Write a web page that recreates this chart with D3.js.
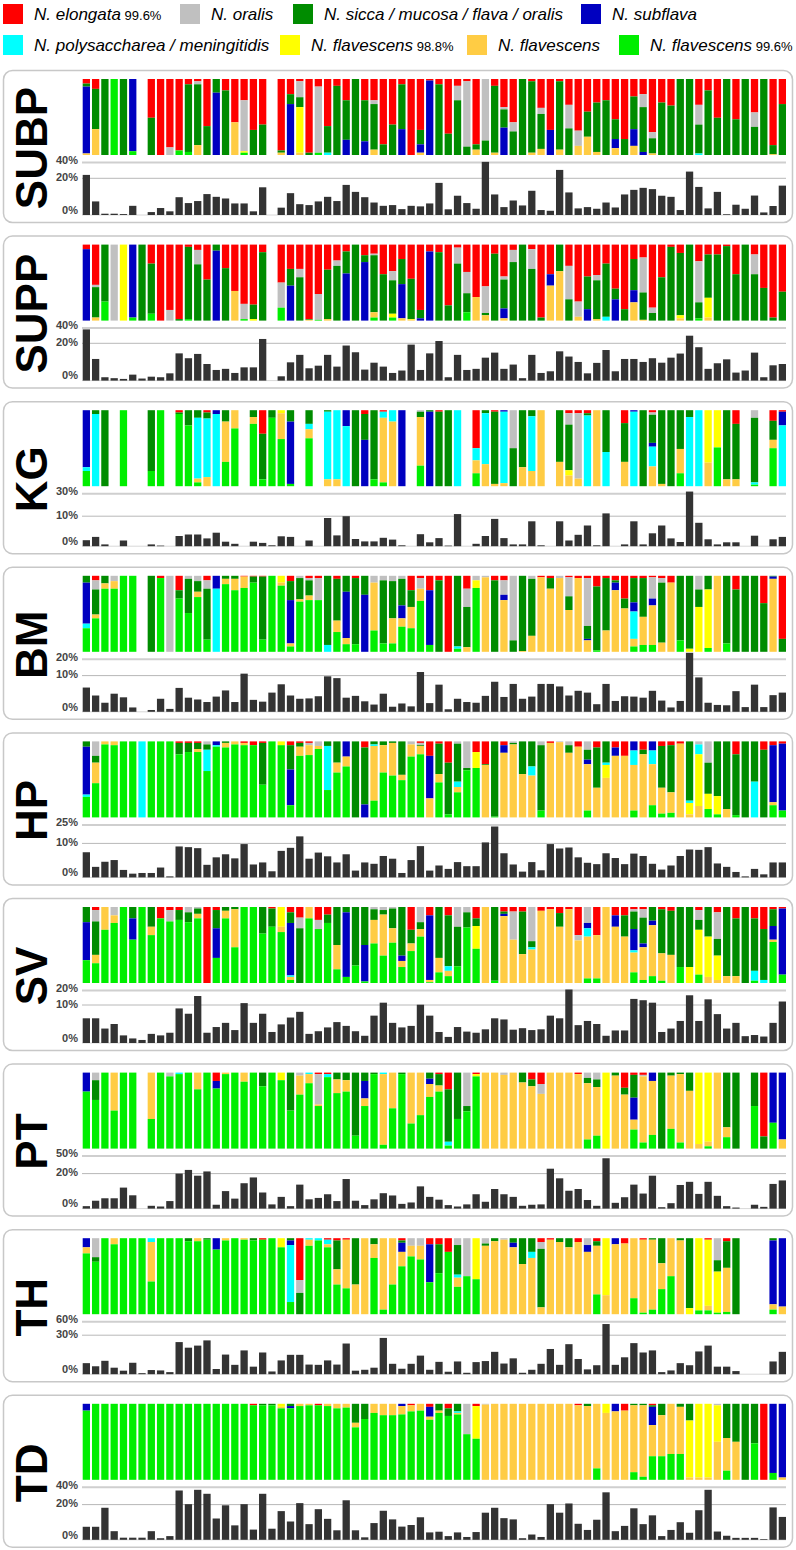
<!DOCTYPE html>
<html>
<head>
<meta charset="utf-8">
<title>Neisseria composition by site</title>
<script src="https://cdn.jsdelivr.net/npm/d3@7"></script>
<style>
  body { margin: 0; background: #fff; }
  svg text { font-family: "Liberation Sans", Arial, sans-serif; }
  .tick-label { font-size: 11px; font-weight: bold; fill: #444; }
  .site-label { font-size: 44px; font-weight: bold; fill: #000; }
  .legend-text { font-size: 17px; font-style: italic; fill: #000; }
  .legend-pct { font-size: 13px; font-style: normal; }
</style>
</head>
<body>
<script>
// species in stacking order, top to bottom
var species = ["N. elongata", "N. oralis", "N. sicca / mucosa / flava / oralis", "N. subflava",
  "N. polysaccharea / meningitidis", "N. flavescens", "N. flavescens", "N. flavescens"];
var speciesPct = ["99.6%", "", "", "", "", "98.8%", "", "99.6%"];
var speciesColors = ["#ff0000", "#c0c0c0", "#008c00", "#0000c0", "#00ffff", "#ffff00", "#ffcc44", "#00ee00"];

var sites = ["SUBP", "SUPP", "KG", "BM", "HP", "SV", "PT", "TH", "TD"];
// abundance axis ticks per site (0, break, top)
var siteTicks = [[0, 20, 40], [0, 20, 40], [0, 10, 30], [0, 10, 20], [0, 10, 25],
  [0, 10, 20], [0, 20, 50], [0, 30, 60], [0, 20, 40]];

// composition per column: [elongata, oralis, sicca, subflava, polysacch, flav98.8, flav, flav99.6]
var subpComp = [[6,0,4,88,0,0,2,0],[13,0,53,0,0,0,34,0],[0,0,100,0,0,0,0,0],[0,0,0,0,0,0,0,100],[0,0,100,0,0,0,0,0],
[0,0,0,95,0,0,0,5],[],[51,0,49,0,0,0,0,0],[100,0,0,0,0,0,0,0],[90,10,0,0,0,0,0,0],
[94,0,0,0,0,0,0,6],[7,0,89,0,0,0,0,4],[3,4,80,0,0,0,13,0],[62,0,38,0,0,0,0,0],[0,0,18,82,0,0,0,0],
[15,0,85,0,0,0,0,0],[57,0,0,0,0,0,43,0],[28,67,0,0,0,2,0,3],[67,0,33,0,0,0,0,0],[60,0,40,0,0,0,0,0],
[],[94,0,3,0,0,0,3,0],[20,0,13,67,0,0,0,0],[3,21,13,0,0,60,3,0],[97,0,3,0,0,0,0,0],
[10,87,0,0,0,0,0,3],[62,0,35,0,3,0,0,0],[9,0,91,0,0,0,0,0],[28,0,52,20,0,0,0,0],[0,0,100,0,0,0,0,0],
[28,0,54,18,0,0,0,0],[28,5,60,0,0,0,7,0],[86,0,14,0,0,0,0,0],[60,0,40,0,0,0,0,0],[7,0,59,34,0,0,0,0],
[100,0,0,0,0,0,0,0],[67,0,19,11,0,0,3,0],[2,0,0,98,0,0,0,0],[7,0,93,0,0,0,0,0],[72,0,28,0,0,0,0,0],
[9,19,72,0,0,0,0,0],[3,86,11,0,0,0,0,0],[86,0,7,0,0,0,7,0],[0,81,19,0,0,0,0,0],[9,0,88,0,0,0,3,0],
[37,3,24,36,0,0,0,0],[57,12,31,0,0,0,0,0],[0,0,100,0,0,0,0,0],[3,0,94,0,0,0,3,0],[38,8,46,0,0,0,8,0],
[67,0,0,33,0,0,0,0],[3,0,90,0,0,0,7,0],[34,31,35,0,0,0,0,0],[68,20,0,0,0,0,12,0],[43,0,33,0,0,0,24,0],
[31,0,65,0,0,0,4,0],[28,0,72,0,0,0,0,0],[53,0,26,12,0,0,9,0],[79,0,21,0,0,0,0,0],[23,0,43,22,0,0,12,0],
[20,17,59,4,0,0,0,0],[70,8,20,0,0,0,2,0],[31,0,69,0,0,0,0,0],[35,0,65,0,0,0,0,0],[0,0,100,0,0,0,0,0],
[0,0,100,0,0,0,0,0],[34,26,38,0,2,0,0,0],[15,0,85,0,0,0,0,0],[51,0,49,0,0,0,0,0],[0,0,100,0,0,0,0,0],
[53,0,47,0,0,0,0,0],[0,0,100,0,0,0,0,0],[44,19,37,0,0,0,0,0],[0,0,100,0,0,0,0,0],[87,0,12,0,0,0,1,0],
[33,0,67,0,0,0,0,0]];
var subpAbund = [24.3,7.4,0.7,0.7,0.5,5.0,null,1.6,3.8,2.0, 9.7,6.5,7.6,11.4,9.9,9.0,6.3,6.3,2.0,15.1,
null,4.0,11.9,5.9,5.4,7.4,9.9,7.6,16.4,12.6, 9.7,6.8,5.0,5.4,3.2,5.0,4.7,6.3,17.5,3.1,
10.5,6.5,3.4,40.8,11.2,4.3,7.9,5.2,13.2,2.7, 2.3,30.6,12.3,3.6,4.3,3.4,6.8,4.1,11.2,13.7,
14.8,14.1,10.5,9.9,2.7,28.5,15.3,3.6,12.6,0.4, 5.6,3.4,10.6,1.4,4.9,16.0];

var suppComp = [[6,0,0,94,0,0,0,0],[53,3,40,0,0,0,4,0],[0,0,75,0,0,0,0,25],[0,100,0,0,0,0,0,0],[0,0,0,0,0,100,0,0],
[0,0,0,96,0,0,0,4],[0,0,100,0,0,0,0,0],[25,0,66,0,0,0,0,9],[100,0,0,0,0,0,0,0],[86,14,0,0,0,0,0,0],
[98,0,2,0,0,0,0,0],[3,0,95,0,0,0,0,2],[7,19,74,0,0,0,0,0],[46,0,54,0,0,0,0,0],[0,0,8,92,0,0,0,0],
[31,0,69,0,0,0,0,0],[61,0,0,0,0,0,39,0],[78,20,0,0,0,0,0,2],[79,0,19,0,0,2,0,0],[10,0,90,0,0,0,0,0],
[],[50,33,0,0,0,0,0,17],[32,0,22,46,0,0,0,0],[32,11,57,0,0,0,0,0],[98,0,1,0,0,0,1,0],
[65,34,0,0,0,0,0,1],[33,0,65,0,0,0,2,0],[21,7,72,0,0,0,0,0],[9,0,29,62,0,0,0,0],[0,0,100,0,0,0,0,0],
[14,0,9,77,0,0,0,0],[12,2,75,0,0,0,7,4],[39,0,61,0,0,0,0,0],[35,12,44,0,0,5,0,4],[19,0,33,45,0,0,3,0],
[45,0,53,0,0,1,1,0],[86,0,11,3,0,0,0,0],[9,0,0,91,0,0,0,0],[10,0,90,0,0,0,0,0],[80,0,20,0,0,0,0,0],
[4,21,75,0,0,0,0,0],[36,28,25,0,0,0,0,11],[69,0,0,0,0,0,31,0],[55,35,3,0,0,0,7,0],[12,0,88,0,0,0,0,0],
[42,4,38,13,0,0,3,0],[7,16,77,0,0,0,0,0],[0,0,100,0,0,0,0,0],[6,26,68,0,0,0,0,0],[96,0,4,0,0,0,0,0],
[39,0,0,15,0,0,46,0],[0,0,35,0,0,0,65,0],[28,44,28,0,0,0,0,0],[75,20,0,0,0,0,5,0],[42,0,43,15,0,0,0,0],
[40,7,51,0,0,0,2,0],[25,0,70,0,5,0,0,0],[58,0,14,28,0,0,0,0],[85,0,15,0,0,0,0,0],[19,0,41,16,0,0,24,0],
[17,46,36,0,0,0,1,0],[83,7,10,0,0,0,0,0],[43,0,57,0,0,0,0,0],[3,0,97,0,0,0,0,0],[11,0,82,0,0,4,3,0],
[0,0,100,0,0,0,0,0],[22,54,21,0,0,0,0,3],[13,0,57,0,0,26,4,0],[13,0,87,0,0,0,0,0],[2,0,98,0,0,0,0,0],
[39,0,61,0,0,0,0,0],[0,0,100,0,0,0,0,0],[13,26,61,0,0,0,0,0],[57,0,43,0,0,0,0,0],[96,0,4,0,0,0,0,0],
[62,0,38,0,0,0,0,0]];
var suppAbund = [38.3,11.6,1.8,1.3,0.9,3.2,1.1,2.1,1.8,3.9, 14.6,12.0,14.3,8.9,5.7,6.3,4.1,7.1,7.1,25.7,
null,2.3,9.8,13.8,6.6,8.0,13.8,7.5,18.8,15.2, 5.9,9.6,7.5,4.1,5.4,19.3,5.7,14.6,23,1.8,
13.8,5.7,6.3,12.3,15,6.3,8.6,1.3,13.8,4.1, 5,15.7,12.9,10,3.9,9.5,16.4,5,11.6,11.6,
10,12,9.6,12.3,14.5,30,17.9,6.3,9.3,11.4, 4.3,5.4,15,1.8,8.2,8.9];

var kgComp = [[0,0,0,75,5,0,0,20],[0,0,5,0,95,0,0,0],[0,0,100,0,0,0,0,0],[],[0,0,0,0,0,0,0,100],
[],[],[0,0,80,0,0,0,0,20],[0,0,0,0,0,0,0,100],[],
[3,0,2,0,0,0,0,95],[0,0,20,0,0,0,0,80],[0,0,10,0,80,0,5,5],[3,0,8,0,77,0,12,0],[0,0,0,5,95,0,0,0],
[0,0,15,0,0,0,53,32],[0,0,0,0,0,0,24,76],[],[0,0,9,0,0,0,9,82],[31,0,60,0,0,0,0,9],
[0,0,10,0,0,0,0,90],[0,0,0,0,0,4,34,62],[0,0,15,82,0,0,0,3],[],[0,0,18,0,7,0,12,63],
[],[0,0,2,0,89,0,9,0],[0,0,0,0,91,0,9,0],[0,0,0,21,79,0,0,0],[0,0,100,0,0,0,0,0],
[5,0,34,61,0,0,0,0],[0,0,91,0,0,0,0,9],[2,0,0,0,8,0,85,5],[0,0,0,0,15,0,85,0],[0,0,0,100,0,0,0,0],
[],[0,2,7,0,0,0,64,27],[0,0,2,98,0,0,0,0],[2,0,98,0,0,0,0,0],[0,0,100,0,0,0,0,0],
[0,0,0,0,100,0,0,0],[],[50,0,0,0,16,0,17,17],[0,0,4,0,67,0,29,0],[2,0,95,0,0,0,3,0],
[0,0,0,2,94,0,4,0],[0,50,50,0,0,0,0,0],[0,0,75,0,0,0,25,0],[0,0,8,0,72,0,20,0],[0,0,0,0,0,0,100,0],
[],[0,0,68,0,0,0,32,0],[4,15,60,0,0,7,14,0],[4,86,0,0,0,0,10,0],[4,0,3,0,93,0,0,0],
[0,0,0,0,0,0,100,0],[0,0,55,0,45,0,0,0],[],[17,0,51,0,0,0,32,0],[0,0,0,2,98,0,0,0],
[0,0,100,0,0,0,0,0],[3,3,37,5,26,0,26,0],[0,0,97,0,0,0,3,0],[0,0,100,0,0,0,0,0],[0,0,51,0,0,0,32,17],
[0,0,9,0,91,0,0,0],[0,0,0,0,100,0,0,0],[0,0,0,0,0,69,31,0],[0,0,0,0,0,49,0,51],[0,0,91,0,0,0,9,0],
[18,0,73,0,0,0,9,0],[],[0,10,85,0,3,0,0,2],[],[14,0,25,0,0,0,11,50],
[2,0,0,18,80,0,0,0]];
var kgAbund = [2.0,3.1,0.6,null,1.9,null,null,0.6,0.2,null, 3.4,3.9,3.9,2.6,4.5,1.5,0.8,null,1.5,1.1,
0.3,3.3,3.1,null,1.9,null,9.4,3.6,10,2.4, 1.6,1.6,2.8,2.2,0.3,null,4.0,1.3,2.7,0.2,
11.9,null,0.8,3.4,9.1,2.7,0.6,0.6,8.3,0.3, null,8.3,1.9,3.8,6.9,0.3,12.5,null,0.6,8.3,
0.6,4.3,6.9,2.6,1.4,31.9,7.8,2.3,0.6,1.3, 1.3,null,3.5,null,2.3,3.1];

var bmComp = [[0,0,9,54,6,0,0,31],[6,12,33,0,0,0,5,44],[0,0,10,0,0,0,7,83],[0,7,0,0,0,0,10,83],[0,0,0,0,0,0,0,100],
[0,0,0,0,0,0,0,100],[],[0,0,100,0,0,0,0,0],[3,0,0,0,0,0,0,97],[0,100,0,0,0,0,0,0],
[19,0,11,0,0,0,0,70],[0,4,45,0,0,0,0,51],[0,7,14,0,0,0,7,72],[6,11,67,0,0,0,0,16],[0,0,0,17,83,0,0,0],
[0,0,4,0,0,0,7,89],[0,0,4,0,0,0,15,81],[1,0,0,0,0,0,15,84],[1,0,8,0,0,0,0,91],[1,0,83,0,0,0,0,16],
[0,0,0,0,0,0,0,100],[0,0,0,0,0,9,4,87],[7,0,25,57,0,0,4,7],[0,3,28,0,0,0,3,66],[3,3,20,0,0,0,6,68],
[3,29,0,0,0,0,0,68],[0,0,91,0,9,0,0,0],[4,0,55,0,0,0,15,26],[0,0,21,61,0,0,8,10],[3,0,87,0,0,0,0,10],
[0,0,25,75,0,0,0,0],[0,9,0,0,0,0,63,28],[0,6,83,0,0,0,0,11],[0,7,49,0,0,0,33,11],[0,4,35,17,0,0,11,33],
[19,0,22,0,0,0,28,31],[3,14,0,0,0,0,16,67],[19,0,0,72,0,0,0,9],[6,0,94,0,0,0,0,0],[100,0,0,0,0,0,0,0],
[0,0,93,0,3,0,0,4],[17,24,53,0,0,0,6,0],[0,6,0,0,0,10,0,84],[0,2,0,0,0,0,98,0],[6,0,94,0,0,0,0,0],
[6,19,0,7,0,0,68,0],[0,85,15,0,0,0,0,0],[0,0,99,0,0,0,1,0],[0,4,75,0,0,0,21,0],[2,0,0,0,0,0,98,0],
[3,0,14,0,0,0,83,0],[0,3,0,0,0,0,97,0],[2,25,18,0,0,0,55,0],[3,0,0,0,0,0,97,0],[3,63,17,2,0,0,15,0],
[14,0,84,0,0,0,0,2],[3,0,69,0,0,0,28,0],[6,0,3,10,0,0,81,0],[30,0,13,0,0,0,57,0],[3,0,32,12,36,0,10,7],
[3,0,51,0,0,0,37,9],[2,28,0,9,0,0,52,9],[3,6,79,0,0,0,12,0],[9,0,0,0,0,0,91,0],[0,0,85,0,0,0,0,15],
[0,0,96,0,0,4,0,0],[0,18,23,0,0,59,0,0],[0,0,18,0,0,77,0,5],[0,0,0,0,0,0,100,0],[0,0,89,0,0,0,0,11],
[18,0,82,0,0,0,0,0],[0,0,100,0,0,0,0,0],[0,0,100,0,0,0,0,0],[36,0,64,0,0,0,0,0],[0,0,1,3,0,0,96,0],
[83,0,17,0,0,0,0,0]];
var bmAbund = [6.7,4.5,2.5,5.0,4.0,1.2,null,0.5,3.6,0.8, 6.6,3.9,3.4,2.7,4.2,5.9,2.7,11.2,3.3,2.8,
5.3,7.6,4.5,3.6,3.7,4.3,9.8,9.3,3.9,4.4, 2.9,2.0,5.0,1.4,2.3,1.5,12.2,2.4,7.5,0.7,
3.6,2.7,2.5,4.4,8.3,4.1,7.7,3.6,4.2,7.7, 7.7,7.0,4.5,5.8,5.3,2.1,7.7,3.0,4.3,4.2,
3.9,5.8,3.1,1.2,3.0,24,9.5,2.5,1.9,1.8, 5.7,1.3,7.5,1.3,4.6,5.3];

var hpComp = [[0,0,7,63,3,0,0,27],[0,19,9,0,0,0,27,45],[0,0,0,0,0,0,4,96],[0,0,0,0,0,0,5,95],[0,0,0,0,0,0,0,100],
[0,0,0,0,0,0,0,100],[0,0,0,0,100,0,0,0],[0,0,0,0,0,0,0,100],[0,0,0,0,0,0,0,100],[0,0,0,0,0,0,0,100],
[2,0,15,0,0,0,0,83],[2,0,12,0,0,0,0,86],[2,0,8,0,0,0,4,86],[0,4,7,0,28,0,0,61],[0,0,0,5,2,0,0,93],
[0,0,2,0,0,0,6,92],[0,0,0,0,0,0,4,96],[2,0,0,0,0,0,3,95],[5,0,0,0,0,0,0,95],[2,0,55,0,0,0,0,43],
[0,0,0,0,0,0,0,100],[0,0,0,0,0,5,0,95],[5,0,32,47,0,0,0,16],[2,0,5,0,0,0,12,81],[2,3,0,0,0,0,13,82],
[0,6,0,0,0,0,4,90],[0,0,6,0,58,0,0,36],[0,0,28,0,0,0,13,59],[0,0,0,20,0,0,13,67],[0,0,100,0,0,0,0,0],
[8,0,75,17,0,0,0,0],[0,0,4,0,2,0,72,22],[0,0,5,0,0,0,36,59],[0,0,2,0,0,0,43,55],[0,0,44,0,0,0,7,49],
[0,4,0,0,0,0,16,80],[2,3,1,0,0,0,11,83],[19,0,0,56,0,0,25,0],[3,0,40,0,0,0,11,46],[28,0,68,0,0,0,0,4],
[0,3,50,0,7,0,7,33],[0,35,3,0,0,0,0,62],[14,0,0,0,0,21,0,65],[30,0,1,0,0,0,69,0],[0,0,99,0,0,0,0,1],
[5,0,0,10,0,0,85,0],[0,2,2,0,0,0,96,0],[0,0,43,0,0,0,57,0],[0,0,33,0,12,0,55,0],[0,5,86,0,0,0,0,9],
[2,0,0,0,0,0,98,0],[0,1,0,0,0,0,99,0],[0,5,10,0,0,0,85,0],[7,0,0,0,0,0,93,0],[0,11,13,6,0,0,61,9],
[8,0,53,0,0,0,39,0],[0,0,28,0,3,17,52,0],[8,0,0,11,0,0,81,0],[19,0,0,0,0,0,81,0],[0,0,0,12,19,0,60,9],
[11,0,6,0,0,0,83,0],[0,0,0,12,18,0,54,16],[6,0,55,0,0,0,34,5],[5,0,62,0,0,0,27,6],[3,0,0,0,0,0,97,0],
[0,0,78,0,3,15,4,0],[0,4,0,0,13,68,15,0],[0,28,41,0,0,20,0,11],[0,0,72,0,0,24,0,4],[0,0,89,0,0,0,11,0],
[17,0,80,0,0,0,0,3],[0,0,100,0,0,0,0,0],[0,0,53,0,47,0,0,0],[11,0,89,0,0,0,0,0],[5,0,0,75,0,0,4,16],
[3,0,0,88,0,0,0,9]];
var hpAbund = [7.4,3.1,4.6,5.1,2.2,1.1,1.3,1.3,2.9,0.3, 9.1,8.9,8.6,3.7,5.9,6.8,5.6,9.8,3.8,4.4,
1.8,7.8,8.7,15.7,5.5,7.3,6.2,4.4,6.8,2.0, 4.4,4.0,6.3,5.5,1.3,5.1,9.2,2.0,3.5,2.5,
4.5,3.3,3.3,10.8,23.7,7.1,3.8,1.7,4.5,2.1, 9.8,8.5,8.8,5.9,4.3,3.9,7.1,5.7,3.9,7.0,
6.3,4.0,2.3,3.5,6.3,8.2,8.1,8.9,4.1,3.1, 1.6,0.3,2.5,0.9,4.4,4.4];

var svComp = [[0,0,20,50,0,0,0,30],[4,15,44,0,0,0,11,26],[0,0,0,0,0,0,30,70],[0,11,0,0,0,0,10,79],[0,0,0,0,0,0,0,100],
[0,0,15,28,0,0,0,57],[0,0,0,0,0,0,0,100],[0,0,26,0,0,0,11,63],[15,0,0,0,0,0,0,85],[4,15,0,0,0,0,0,81],
[4,0,13,0,0,0,0,83],[0,7,13,0,0,0,0,80],[0,2,7,0,0,0,6,85],[100,0,0,0,0,0,0,0],[4,0,24,39,0,0,0,33],
[0,0,5,0,0,0,10,85],[0,0,3,0,0,0,50,47],[0,0,0,0,0,0,0,100],[0,0,0,0,0,0,0,100],[0,0,35,0,0,0,0,65],
[2,0,24,0,0,0,0,74],[0,0,0,0,0,26,7,67],[7,0,14,69,2,0,4,4],[14,14,72,0,0,0,0,0],[0,0,0,0,0,0,15,85],
[17,12,0,0,0,0,0,71],[10,0,11,0,0,0,0,79],[0,0,50,0,0,0,32,18],[0,0,7,85,0,0,0,8],[0,0,77,0,0,0,0,23],
[0,0,50,48,0,0,0,2],[0,3,14,0,0,0,31,52],[0,4,6,0,0,0,54,36],[0,2,26,0,0,0,19,53],[0,0,64,7,0,0,8,21],
[30,0,18,0,0,0,10,42],[0,20,9,0,0,0,10,61],[11,0,0,85,0,0,3,1],[0,0,67,0,0,0,19,14],[11,0,67,0,6,0,7,9],
[0,26,52,0,0,0,0,22],[0,7,20,0,0,0,0,73],[15,0,10,0,0,30,0,45],[0,0,0,0,0,0,100,0],[0,0,97,0,0,0,0,3],
[6,0,3,3,0,0,88,0],[6,37,0,0,0,0,57,0],[6,0,56,0,0,0,38,0],[0,45,8,0,3,0,44,0],[5,0,0,0,0,0,95,0],
[3,0,0,0,0,0,97,0],[8,0,18,0,0,0,74,0],[3,0,0,0,0,0,97,0],[37,7,0,0,0,0,56,0],[0,21,0,7,11,0,55,6],
[37,0,0,0,0,0,57,6],[0,0,0,0,0,0,100,0],[11,0,0,15,0,0,74,0],[11,0,28,0,0,0,61,0],[3,3,23,28,3,0,26,14],
[3,11,34,5,0,0,43,4],[0,0,18,6,0,0,67,9],[3,0,58,0,0,0,36,3],[5,0,58,0,0,0,37,0],[0,0,79,0,0,0,0,21],
[0,0,79,0,0,21,0,0],[4,13,13,0,0,59,0,11],[0,0,39,0,0,53,8,0],[7,35,22,0,0,32,4,0],[0,0,91,0,0,0,9,0],
[15,0,76,0,0,0,9,0],[0,0,100,0,0,0,0,0],[15,0,69,0,13,0,0,3],[29,0,67,0,4,0,0,0],[3,0,22,18,0,0,3,54],
[2,0,0,87,0,0,0,11]];
var svAbund = [6.5,6.5,3.8,5.0,2.0,1.2,0.8,2.4,2.0,2.7, 9.1,7.7,16.2,2.7,4.2,5.3,3.4,11.3,5.3,7.7,
2.9,4.9,6.7,8.2,2.4,3.1,4.1,5.5,4.5,3.1, 1.9,7.2,11.6,5.3,4.1,4.5,10.2,7.2,2.9,1.6,
4.2,3.0,2.7,3.6,6.5,6.2,3.5,3.9,3.4,3.6, 7.2,6.5,20.7,4.7,5.8,5.0,1.9,3.3,3.3,14.2,
13.3,11.6,2.9,3.8,5.8,16.7,5.8,13.9,7.6,3.8, 5.3,1.8,2.1,1.7,5.3,12.4];

var ptComp = [[0,0,0,25,0,0,0,75],[0,10,26,0,0,0,0,64],[0,0,0,0,0,0,0,100],[0,0,0,0,0,0,50,50],[0,0,0,0,0,0,0,100],
[0,0,0,0,0,0,0,100],[],[0,0,0,0,0,0,61,39],[0,0,0,0,0,0,0,100],[0,5,0,0,0,0,0,95],
[0,0,0,0,2,0,0,98],[0,0,0,0,0,0,0,100],[0,0,0,0,0,0,22,78],[0,0,0,0,0,0,0,100],[11,0,0,10,0,0,0,79],
[0,0,0,0,0,0,2,98],[0,0,0,0,0,0,0,100],[0,0,0,0,0,0,12,88],[0,0,0,0,0,0,0,100],[0,0,18,0,0,0,0,82],
[0,0,0,0,0,0,0,100],[0,0,0,0,0,10,0,90],[0,0,50,0,0,0,0,50],[0,4,0,0,0,0,25,71],[0,0,0,0,2,0,12,86],
[2,40,0,0,0,0,2,56],[2,0,0,0,4,0,0,94],[0,0,9,0,0,0,18,73],[0,0,10,0,0,0,15,75],[0,0,83,0,0,0,0,17],
[0,0,11,23,0,0,10,56],[0,0,2,0,0,0,0,98],[0,0,0,0,2,0,93,5],[0,0,0,0,0,0,47,53],[0,0,2,0,0,0,0,98],
[0,0,0,0,0,0,67,33],[0,0,0,0,0,0,56,44],[0,0,8,7,0,0,17,68],[2,0,15,0,0,0,8,75],[22,0,69,0,5,0,0,4],
[0,0,61,0,0,0,0,39],[0,44,7,0,0,0,0,49],[2,0,0,0,0,3,0,95],[0,0,0,0,0,0,100,0],[0,0,0,0,0,0,100,0],
[0,3,0,0,0,0,97,0],[0,0,0,0,0,0,100,0],[0,0,13,0,0,0,87,0],[9,0,9,0,0,0,82,0],[15,13,0,0,0,0,72,0],
[0,0,0,0,0,0,100,0],[0,0,0,0,0,0,100,0],[0,0,0,0,0,0,100,0],[2,0,0,0,0,0,98,0],[0,7,7,0,0,0,74,12],
[0,9,10,0,0,0,64,17],[0,0,0,0,0,100,0,0],[0,0,4,0,0,0,96,0],[20,0,9,0,0,0,71,0],[3,0,30,29,0,0,13,25],
[3,2,0,0,0,0,87,8],[0,0,0,11,0,0,71,18],[0,0,100,0,0,0,0,0],[0,0,4,0,0,0,70,26],[0,0,2,0,0,0,90,8],
[0,0,24,0,0,0,76,0],[0,0,0,0,0,94,6,0],[0,0,0,0,0,91,6,3],[0,0,0,0,0,0,100,0],[0,0,72,0,0,0,13,15],
[0,0,100,0,0,0,0,0],[],[0,0,44,0,0,0,0,56],[84,0,16,0,0,0,0,0],[0,0,0,66,0,0,0,34],
[0,0,0,88,0,0,12,0]];
var ptAbund = [1.4,4.5,5.9,5.9,12,7.6,null,1.6,1.2,4.3, 20,26.3,18.8,23.7,2.2,10,5.7,14.5,17.8,9.2,
2.4,6.7,1.4,13.7,5.3,6.1,8.2,4.3,16.9,4.5, 2.0,5.3,8.8,7.5,2.7,3.5,12.7,6.7,5.1,2.0,
1.2,2.4,8.2,3.9,11.2,8.2,6.7,1.6,2.2,2.4, 28.4,17.3,10.2,11.2,4.9,1.6,46.3,3.3,6.5,13.7,
8.6,18.8,0.8,3.1,13.5,15.3,8.4,15.3,7.3,1.4, 0.6,null,2.2,1.0,14.1,16.1];

var thComp = [[0,0,0,12,0,0,8,80],[0,25,6,0,0,0,0,69],[0,0,0,0,0,0,0,100],[0,0,0,0,0,0,8,92],[0,0,0,0,0,0,0,100],
[0,0,0,0,0,0,0,100],[0,0,0,0,0,0,0,100],[0,0,0,0,5,0,52,43],[0,0,0,0,0,0,0,100],[0,0,0,0,0,0,0,100],
[0,0,0,0,0,0,0,100],[0,0,4,0,0,0,0,96],[0,0,0,0,0,0,4,96],[0,0,2,0,0,0,0,98],[0,0,0,15,0,0,0,85],
[0,0,0,0,0,0,3,97],[0,0,0,0,0,0,0,100],[0,0,0,0,0,0,2,98],[0,0,3,0,0,0,0,97],[2,0,0,0,0,0,0,98],
[0,0,0,0,0,0,0,100],[0,0,0,0,0,12,0,88],[0,0,3,6,75,0,0,16],[55,17,28,0,0,0,0,0],[0,0,0,0,2,0,8,90],
[0,0,0,0,3,0,0,97],[2,0,0,0,6,0,4,88],[3,0,38,0,0,0,20,39],[2,0,0,0,0,0,64,34],[0,0,61,0,0,0,39,0],
[0,0,0,0,0,0,100,0],[0,0,8,0,0,0,18,74],[0,0,0,0,0,0,94,6],[0,0,0,0,0,0,61,39],[3,0,3,12,0,0,19,63],
[0,10,0,0,0,0,14,76],[0,10,0,0,0,0,18,72],[8,0,0,50,0,0,0,42],[8,0,38,0,0,0,0,54],[18,0,0,0,0,0,0,82],
[0,9,39,0,4,0,12,36],[0,50,0,0,0,0,0,50],[0,0,0,0,0,54,0,46],[0,7,3,0,0,0,90,0],[0,0,4,0,0,0,96,0],
[0,2,0,0,0,0,98,0],[0,0,6,6,0,0,88,0],[0,0,34,0,0,0,66,0],[0,0,18,0,8,0,74,0],[5,9,77,0,0,0,9,0],
[2,0,0,0,0,0,98,0],[0,0,5,0,0,0,95,0],[0,0,12,0,0,0,88,0],[5,0,0,0,0,0,95,0],[0,9,0,9,0,0,82,0],
[4,0,6,0,0,0,64,26],[0,0,0,0,0,75,25,0],[0,0,0,8,0,0,92,0],[7,0,0,0,0,0,93,0],[0,0,0,0,0,0,79,21],
[2,0,0,0,0,0,96,2],[0,0,2,0,0,0,92,6],[0,0,33,0,0,0,34,33],[0,0,0,0,0,0,50,50],[0,0,3,0,0,0,97,0],
[0,0,92,0,0,8,0,0],[0,0,0,0,0,95,0,5],[2,0,0,0,0,87,6,5],[0,29,15,0,0,54,0,2],[4,0,35,0,0,0,58,3],
[0,0,100,0,0,0,0,0],[],[],[],[0,0,3,84,0,0,7,6],
[0,0,0,90,0,0,10,0]];
var thAbund = [8.5,6.1,10.3,5.0,2.7,8.8,0.8,3.2,2.9,1.6, 24.7,20.4,22,26,4,15.1,7.2,18.3,5.8,16.7,
2.1,10.6,14.9,14.9,7.4,7.2,10.6,7.4,23.6,2.7, 3.4,5.0,27.9,8,4.2,8,14.3,3.4,9.5,1.9,
9.8,1.1,9.3,10.1,17.2,8.2,12.2,1.1,3.4,8, 19.4,7.2,23.1,11.7,3.7,6.9,54.8,7.2,13,23.9,
16.7,18.3,1.6,2.9,8.5,6.9,17.5,22,5.8,5.8, 2.4,null,null,null,9.8,17.2];

var tdComp = [[0,0,0,9,0,0,0,91],[0,0,0,0,0,0,0,100],[0,0,0,0,0,0,0,100],[0,0,0,0,0,0,0,100],[0,0,0,0,0,0,0,100],
[0,0,0,0,0,0,0,100],[0,0,0,0,0,0,0,100],[0,0,0,0,0,0,0,100],[0,0,0,0,0,0,0,100],[0,0,0,0,0,0,0,100],
[0,0,0,0,0,0,0,100],[0,0,0,0,0,0,0,100],[0,0,0,0,0,0,0,100],[0,0,0,0,0,0,0,100],[0,0,0,0,0,0,0,100],
[0,0,0,0,0,0,0,100],[0,0,0,0,0,0,0,100],[0,0,0,0,0,0,0,100],[2,0,0,0,0,0,0,98],[0,0,2,0,0,0,0,98],
[0,0,2,0,0,0,0,98],[0,0,0,0,0,4,2,94],[0,0,3,3,0,0,0,94],[0,0,0,0,0,0,3,97],[0,0,0,0,0,0,2,98],
[2,0,0,0,0,0,0,98],[0,0,0,0,0,0,3,97],[0,0,0,0,0,0,6,94],[0,0,0,0,0,0,5,95],[0,0,25,0,0,0,6,69],
[0,0,20,0,0,0,0,80],[0,0,0,0,0,0,12,88],[0,0,0,0,0,0,15,85],[0,0,0,0,0,0,15,85],[0,0,0,3,0,0,11,86],
[2,0,0,0,0,0,8,90],[0,0,0,0,0,0,9,91],[4,0,0,13,0,0,4,79],[0,0,9,0,0,0,3,88],[6,0,10,0,0,0,0,84],
[0,0,10,0,2,0,2,86],[0,40,0,0,0,0,0,60],[3,0,0,0,0,43,0,54],[0,1,0,0,0,0,99,0],[0,0,0,0,0,0,100,0],
[0,0,0,0,0,0,100,0],[0,0,0,0,0,0,100,0],[0,0,0,0,0,0,100,0],[0,0,0,0,0,0,100,0],[0,0,0,0,0,0,100,0],
[0,0,0,0,0,0,100,0],[0,0,0,0,0,0,100,0],[0,0,0,0,0,0,100,0],[2,0,0,0,0,0,98,0],[0,0,3,0,0,0,97,0],
[0,0,0,0,0,0,85,15],[0,0,0,0,0,12,88,0],[0,0,0,10,0,0,90,0],[9,0,0,0,0,0,91,0],[0,0,2,0,0,0,88,10],
[0,0,2,0,0,0,94,4],[2,0,2,24,0,0,41,31],[0,0,15,0,0,0,54,31],[0,0,0,0,0,0,66,34],[0,0,4,0,0,0,62,34],
[0,0,22,0,0,75,3,0],[0,0,0,0,0,97,3,0],[0,0,0,0,0,97,3,0],[0,2,0,0,0,48,50,0],[0,0,45,0,0,0,43,12],
[0,0,50,0,0,0,50,0],[0,0,100,0,0,0,0,0],[0,0,52,0,0,0,0,48],[100,0,0,0,0,0,0,0],[0,0,0,91,0,0,0,9],
[0,0,0,97,0,0,3,0]];
var tdAbund = [7.4,7.4,18.2,4.9,1.2,1.2,1.2,4.9,0.9,2.1, 36.3,20.5,37.1,32.5,12.1,19.6,8.2,20.5,5.8,32.5,
6.3,16.3,10.4,21.7,8.9,17.4,11.9,5.4,25,5.4, 1.4,9.5,16.5,11.6,7.5,8.4,12.8,4.2,4.6,2.1,
4.2,1.6,4.4,15.4,18.2,12.3,11.6,0.9,3.0,1.6, 20.5,15.4,21.3,9.1,5.6,11.4,34.2,4.9,7.9,17.9,
8.9,13.9,2.1,5.6,10,4.0,16.8,37.1,4.7,2.3, 1.1,1.1,1.1,0.4,18.4,13];

var comps = [subpComp, suppComp, kgComp, bmComp, hpComp, svComp, ptComp, thComp, tdComp];
var abunds = [subpAbund, suppAbund, kgAbund, bmAbund, hpAbund, svAbund, ptAbund, thAbund, tdAbund];

// layout
var width = 796, height = 1550;
var panelTop = 70, panelStep = 165.6, panelH = 152;
var stackTop = 9, stackBottom = 85, lineTop = 92.5, lineBase = 145;
var breakY = [108.3, 107.7, 115, 108.8, 111, 107, 110, 106, 109.8];
var legendPos = [[3, 4], [180, 4], [293, 4], [581, 4], [3, 35], [280, 35], [467, 35], [619, 35]];

var svg = d3.select("body").append("svg")
  .attr("width", width)
  .attr("height", height);

// legend
var legend = svg.append("g").attr("class", "legend");
species.forEach(function (name, i) {
  var g = legend.append("g")
    .attr("transform", "translate(" + legendPos[i][0] + "," + legendPos[i][1] + ")");
  g.append("rect")
    .attr("width", 20)
    .attr("height", 20)
    .attr("fill", speciesColors[i]);
  var t = g.append("text")
    .attr("class", "legend-text")
    .attr("x", 31)
    .attr("y", 16)
    .text(name);
  if (speciesPct[i]) {
    t.append("tspan").attr("class", "legend-pct").text(" " + speciesPct[i]);
  }
});

var keys = d3.range(species.length);
var x = d3.scaleBand()
  .domain(d3.range(76))
  .range([82.7, 786])
  .paddingInner(0.215);

var stack = d3.stack()
  .keys(keys)
  .offset(d3.stackOffsetExpand);

sites.forEach(function (site, p) {
  var top = panelTop + p * panelStep;
  var g = svg.append("g").attr("transform", "translate(0," + top + ")");

  g.append("rect")
    .attr("x", 3.5)
    .attr("y", 0.5)
    .attr("width", 789)
    .attr("height", panelH)
    .attr("rx", 9)
    .attr("fill", "#fff")
    .attr("stroke", "#c8c8c8")
    .attr("stroke-width", 1.5);

  g.append("text")
    .attr("class", "site-label")
    .attr("text-anchor", "middle")
    .attr("transform", "translate(47," + 78 + ") rotate(-90)")
    .text(site);

  // composition stacks
  var rows = comps[p].map(function (c) {
    var o = {};
    keys.forEach(function (k) { o[k] = c[k] || 0; });
    return o;
  });
  var series = stack(rows);
  var y = d3.scaleLinear().domain([0, 1]).range([stackTop, stackBottom]);

  g.append("g").selectAll("g")
    .data(series)
    .enter().append("g")
    .attr("fill", function (d) { return speciesColors[d.key]; })
    .selectAll("rect")
    .data(function (d) { return d; })
    .enter().append("rect")
    .attr("x", function (d, i) { return x(i); })
    .attr("y", function (d) { return y(d[0]); })
    .attr("width", x.bandwidth())
    .attr("height", function (d) { return Math.max(0, y(d[1]) - y(d[0])); });

  // abundance bars with a broken scale
  var ticks = siteTicks[p];
  var yA = d3.scaleLinear().domain(ticks).range([lineBase, breakY[p], lineTop]);

  g.append("line")
    .attr("x1", 82).attr("x2", 786)
    .attr("y1", lineTop).attr("y2", lineTop)
    .attr("stroke", "#cfcfcf").attr("stroke-width", 2);
  g.append("line")
    .attr("x1", 82).attr("x2", 786)
    .attr("y1", breakY[p]).attr("y2", breakY[p])
    .attr("stroke", "#b8b8b8").attr("stroke-width", 1);
  g.append("line")
    .attr("x1", 82).attr("x2", 786)
    .attr("y1", lineBase).attr("y2", lineBase)
    .attr("stroke", "#d8d8d8").attr("stroke-width", 1);

  g.append("g").selectAll("rect")
    .data(abunds[p])
    .enter().append("rect")
    .attr("x", function (d, i) { return x(i); })
    .attr("y", function (d) { return d == null ? lineBase : yA(d); })
    .attr("width", x.bandwidth())
    .attr("height", function (d) { return d == null ? 0 : lineBase - yA(d); })
    .attr("fill", "#333");

  var labelY = [lineBase - 5, breakY[p] - 1, lineTop - 2.5];
  g.selectAll(".tick-label")
    .data(ticks)
    .enter().append("text")
    .attr("class", "tick-label")
    .attr("x", 78)
    .attr("y", function (d, i) { return labelY[i]; })
    .attr("dy", "0.35em")
    .attr("text-anchor", "end")
    .text(function (d) { return d + "%"; });
});
</script>
</body>
</html>
